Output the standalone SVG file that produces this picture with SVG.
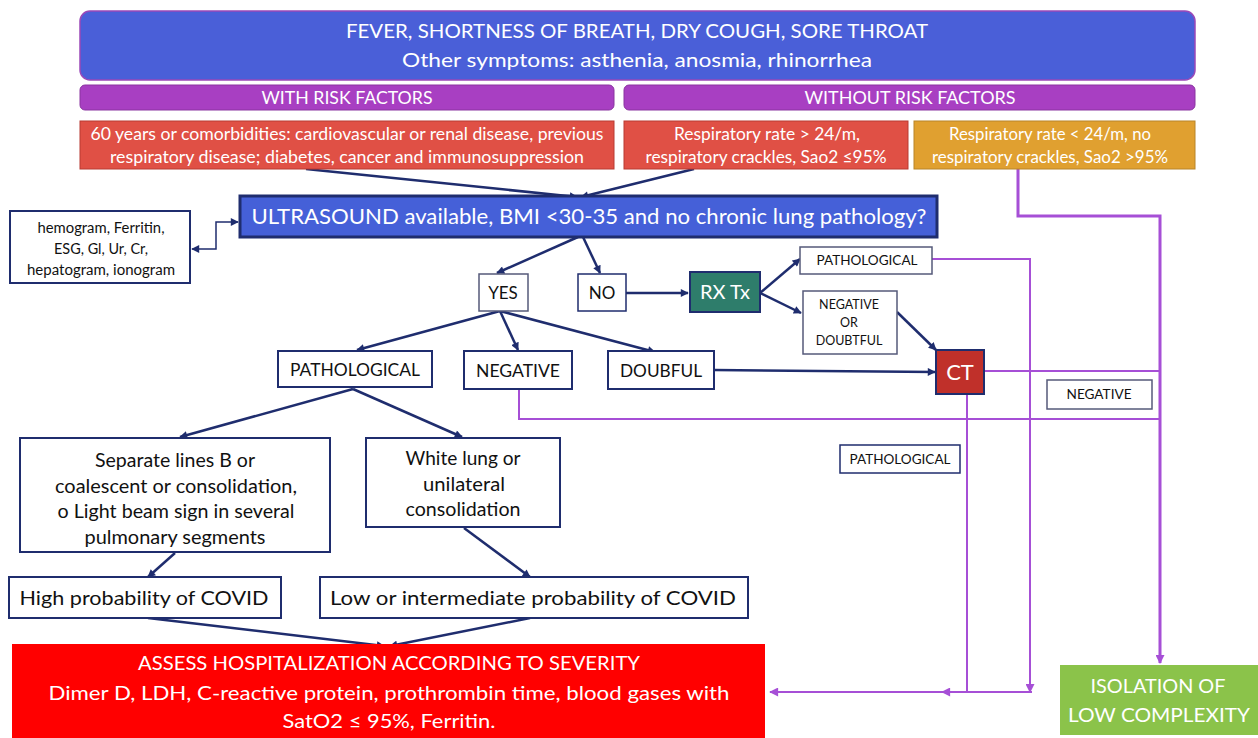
<svg xmlns="http://www.w3.org/2000/svg" width="1258" height="738" viewBox="0 0 1258 738">
<defs>
<marker id="an" viewBox="0 0 10 10" refX="9" refY="5" markerWidth="9" markerHeight="8" markerUnits="userSpaceOnUse" orient="auto-start-reverse"><path d="M0,0 L10,5 L0,10 z" fill="#1f2d6e"/></marker>
<marker id="ap" viewBox="0 0 10 10" refX="9" refY="5" markerWidth="10" markerHeight="9" markerUnits="userSpaceOnUse" orient="auto"><path d="M0,0 L10,5 L0,10 z" fill="#a64fd6"/></marker>
</defs>
<style>
text{font-family:Lato,"Liberation Sans",sans-serif;text-anchor:middle}
.w{fill:#fff}
.k{fill:#111}
.box{fill:#fff;stroke:#1f2d6e;stroke-width:2}
.nv{fill:none;stroke:#1f2d6e;stroke-width:2.5}
.pp{fill:none;stroke:#a64fd6;stroke-width:2}
</style>
<rect width="1258" height="738" fill="#fff"/>

<g id="connectors">
<path class="nv" d="M306,169 L577,197" marker-end="url(#an)"/>
<path class="nv" d="M694,169 L581,197" marker-end="url(#an)"/>
<path class="nv" style="stroke-width:1.5" d="M192,249 H216 V222 H238" marker-start="url(#an)" marker-end="url(#an)"/>
<path class="nv" d="M578,237 L497,273" marker-end="url(#an)"/>
<path class="nv" d="M583,237 L600,273" marker-end="url(#an)"/>
<path class="nv" d="M626,293 L688,293" marker-end="url(#an)"/>
<path class="nv" d="M760,293 L800,259" marker-end="url(#an)"/>
<path class="nv" d="M760,293 L801,313" marker-end="url(#an)"/>
<path class="nv" d="M897,312 L936,350" marker-end="url(#an)"/>
<path class="nv" d="M500,311 L357,350" marker-end="url(#an)"/>
<path class="nv" d="M500,311 L518,350" marker-end="url(#an)"/>
<path class="nv" d="M500,311 L655,352" marker-end="url(#an)"/>
<path class="nv" d="M714,370 L935,372" marker-end="url(#an)"/>
<path class="nv" d="M353,389 L180,437" marker-end="url(#an)"/>
<path class="nv" d="M353,389 L462,437" marker-end="url(#an)"/>
<path class="nv" d="M175,553 L148,577" marker-end="url(#an)"/>
<path class="nv" d="M464,528 L530,577" marker-end="url(#an)"/>
<path class="nv" d="M148,618 L384,646" marker-end="url(#an)"/>
<path class="nv" d="M530,618 L390,646" marker-end="url(#an)"/>

<path class="pp" style="stroke-width:3" d="M1018,169 V216 H1160 V663" marker-end="url(#ap)"/>
<path class="pp" d="M932,259 H1030 V692" marker-end="url(#ap)"/>
<path class="pp" d="M984,371 H1160"/>
<path class="pp" d="M519,389 V419 H1160"/>
<path class="pp" d="M967,394 V692"/>
<path class="pp" d="M1032,692 H942" marker-end="url(#ap)"/>
<path class="pp" d="M942,692 H770" marker-end="url(#ap)"/>
</g>

<g id="symptoms">
<rect x="80" y="11" width="1115" height="69" rx="10" fill="#4a5fd8" stroke="#9a48b8" stroke-width="1.5"/>
<text class="w" x="637" y="38" font-size="20" textLength="582" lengthAdjust="spacingAndGlyphs">FEVER, SHORTNESS OF BREATH, DRY COUGH, SORE THROAT</text>
<text class="w" x="637" y="67" font-size="20" textLength="470" lengthAdjust="spacingAndGlyphs">Other symptoms: asthenia, anosmia, rhinorrhea</text>
</g>
<g id="with-risk">
<rect x="80" y="85" width="534" height="25" rx="5" fill="#a83fc2" stroke="#8a34a0" stroke-width="1"/>
<text class="w" x="347" y="104" font-size="17" textLength="171" lengthAdjust="spacingAndGlyphs">WITH RISK FACTORS</text>
</g>
<g id="without-risk">
<rect x="624" y="85" width="571" height="25" rx="5" fill="#a83fc2" stroke="#8a34a0" stroke-width="1"/>
<text class="w" x="910" y="104" font-size="17" textLength="211" lengthAdjust="spacingAndGlyphs">WITHOUT RISK FACTORS</text>
</g>
<g id="risk-comorbid">
<rect x="80" y="121" width="534" height="48" fill="#e05045" stroke="#b83a32" stroke-width="1"/>
<text class="w" x="347" y="140" font-size="17" textLength="513" lengthAdjust="spacingAndGlyphs">60 years or comorbidities: cardiovascular or renal disease, previous</text>
<text class="w" x="347" y="163" font-size="17" textLength="474" lengthAdjust="spacingAndGlyphs">respiratory disease; diabetes, cancer and immunosuppression</text>
</g>
<g id="resp-high">
<rect x="624" y="121" width="284" height="48" fill="#e05045" stroke="#b83a32" stroke-width="1"/>
<text class="w" x="767" y="140" font-size="17" textLength="186" lengthAdjust="spacingAndGlyphs">Respiratory rate &gt; 24/m,</text>
<text class="w" x="766" y="163" font-size="17" textLength="241" lengthAdjust="spacingAndGlyphs">respiratory crackles, Sao2 ≤95%</text>
</g>
<g id="resp-low">
<rect x="914" y="121" width="281" height="48" fill="#e0a030" stroke="#b88428" stroke-width="1"/>
<text class="w" x="1050" y="140" font-size="17" textLength="202" lengthAdjust="spacingAndGlyphs">Respiratory rate &lt; 24/m, no</text>
<text class="w" x="1050" y="163" font-size="17" textLength="236" lengthAdjust="spacingAndGlyphs">respiratory crackles, Sao2 &gt;95%</text>
</g>
<g id="ultrasound">
<rect x="240" y="196" width="697" height="41" fill="#4560d8" stroke="#1f2d6e" stroke-width="3"/>
<text class="w" x="589" y="224" font-size="21" textLength="675" lengthAdjust="spacingAndGlyphs">ULTRASOUND available, BMI &lt;30-35 and no chronic lung pathology?</text>
</g>
<g id="labs">
<rect class="box" x="10" y="211" width="180" height="72"/>
<text class="k" x="101" y="233" font-size="14.5" textLength="127" lengthAdjust="spacingAndGlyphs">hemogram, Ferritin,</text>
<text class="k" x="101" y="254" font-size="14.5" textLength="94" lengthAdjust="spacingAndGlyphs">ESG, Gl, Ur, Cr,</text>
<text class="k" x="101" y="275" font-size="14.5" textLength="148" lengthAdjust="spacingAndGlyphs">hepatogram, ionogram</text>
</g>
<g id="yes">
<rect class="box" x="479" y="274" width="49" height="37" style="stroke:#555a7a;stroke-width:1.5"/>
<text class="k" x="503" y="299" font-size="17">YES</text>
</g>
<g id="no">
<rect class="box" x="578" y="274" width="48" height="37" style="stroke-width:1.5"/>
<text class="k" x="602" y="299" font-size="17">NO</text>
</g>
<g id="rxtx">
<rect x="690" y="272" width="70" height="40" fill="#2e7d6b" stroke="#1f2d6e" stroke-width="2"/>
<text class="w" x="725" y="299" font-size="20">RX Tx</text>
</g>
<g id="rx-pathological">
<rect class="box" x="800" y="247" width="132" height="27" style="stroke:#555a7a;stroke-width:1.5"/>
<text class="k" x="867" y="265" font-size="13" textLength="101" lengthAdjust="spacingAndGlyphs">PATHOLOGICAL</text>
</g>
<g id="rx-negative-doubtful">
<rect class="box" x="803" y="291" width="94" height="63" style="stroke:#555a7a;stroke-width:1.5"/>
<text class="k" x="849" y="309" font-size="12.5">NEGATIVE</text>
<text class="k" x="849" y="327" font-size="12.5">OR</text>
<text class="k" x="849" y="345" font-size="12.5">DOUBTFUL</text>
</g>
<g id="ct">
<rect x="936" y="350" width="48" height="44" fill="#c0302a" stroke="#1f2d6e" stroke-width="2"/>
<text class="w" x="960" y="380" font-size="22">CT</text>
</g>
<g id="us-pathological">
<rect class="box" x="278" y="351" width="154" height="36"/>
<text class="k" x="355" y="376" font-size="17" textLength="130" lengthAdjust="spacingAndGlyphs">PATHOLOGICAL</text>
</g>
<g id="us-negative">
<rect class="box" x="464" y="351" width="108" height="38"/>
<text class="k" x="518" y="377" font-size="17" textLength="84" lengthAdjust="spacingAndGlyphs">NEGATIVE</text>
</g>
<g id="us-doubful">
<rect class="box" x="608" y="351" width="106" height="38"/>
<text class="k" x="661" y="377" font-size="17" textLength="82" lengthAdjust="spacingAndGlyphs">DOUBFUL</text>
</g>
<g id="ct-negative">
<rect class="box" x="1047" y="380" width="105" height="29" style="stroke:#555a7a;stroke-width:1.5"/>
<text class="k" x="1099" y="399" font-size="13" textLength="65" lengthAdjust="spacingAndGlyphs">NEGATIVE</text>
</g>
<g id="ct-pathological">
<rect class="box" x="840" y="445" width="120" height="28" style="stroke-width:1.5"/>
<text class="k" x="900" y="464" font-size="13" textLength="101" lengthAdjust="spacingAndGlyphs">PATHOLOGICAL</text>
</g>
<g id="separate-lines">
<rect class="box" x="20" y="438" width="310" height="114"/>
<text class="k" x="175" y="467" font-size="18.5" textLength="160" lengthAdjust="spacingAndGlyphs">Separate lines B or</text>
<text class="k" x="176" y="493" font-size="18.5" textLength="242" lengthAdjust="spacingAndGlyphs">coalescent or consolidation,</text>
<text class="k" x="176" y="518" font-size="18.5" textLength="237" lengthAdjust="spacingAndGlyphs">o Light beam sign in several</text>
<text class="k" x="175" y="544" font-size="18.5" textLength="181" lengthAdjust="spacingAndGlyphs">pulmonary segments</text>
</g>
<g id="white-lung">
<rect class="box" x="366" y="438" width="194" height="89"/>
<text class="k" x="463" y="465" font-size="18.5" textLength="115" lengthAdjust="spacingAndGlyphs">White lung or</text>
<text class="k" x="464" y="491" font-size="18.5" textLength="82" lengthAdjust="spacingAndGlyphs">unilateral</text>
<text class="k" x="463" y="516" font-size="18.5" textLength="115" lengthAdjust="spacingAndGlyphs">consolidation</text>
</g>
<g id="high-prob">
<rect class="box" x="9" y="577" width="272" height="41"/>
<text class="k" x="144" y="605" font-size="20" textLength="249" lengthAdjust="spacingAndGlyphs">High probability of COVID</text>
</g>
<g id="low-prob">
<rect class="box" x="320" y="577" width="428" height="41"/>
<text class="k" x="533" y="605" font-size="20" textLength="406" lengthAdjust="spacingAndGlyphs">Low or intermediate probability of COVID</text>
</g>
<g id="assess">
<rect x="12" y="644" width="753" height="94" fill="#ff0000"/>
<text class="w" x="389" y="670" font-size="19" textLength="502" lengthAdjust="spacingAndGlyphs">ASSESS HOSPITALIZATION ACCORDING TO SEVERITY</text>
<text class="w" x="389" y="700" font-size="19" textLength="681" lengthAdjust="spacingAndGlyphs">Dimer D, LDH, C-reactive protein, prothrombin time, blood gases with</text>
<text class="w" x="389" y="728" font-size="19" textLength="213" lengthAdjust="spacingAndGlyphs">SatO2 ≤ 95%, Ferritin.</text>
</g>
<g id="isolation">
<rect x="1060" y="665" width="198" height="70" fill="#8bc34a"/>
<text class="w" x="1158" y="693" font-size="20" textLength="135" lengthAdjust="spacingAndGlyphs">ISOLATION OF</text>
<text class="w" x="1159" y="722" font-size="20" textLength="182" lengthAdjust="spacingAndGlyphs">LOW COMPLEXITY</text>
</g>
</svg>
